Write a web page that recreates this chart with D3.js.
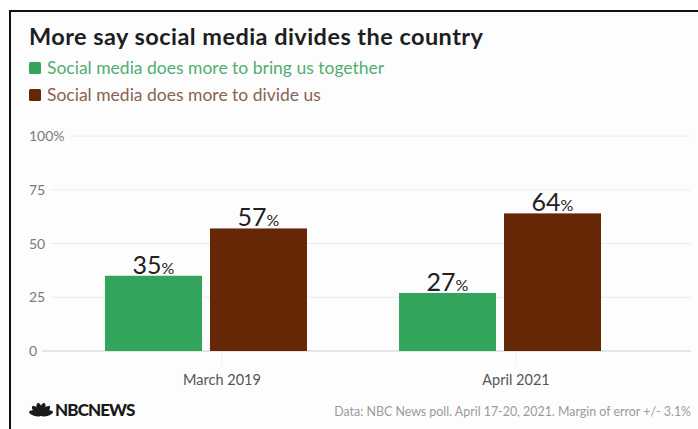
<!DOCTYPE html>
<html>
<head>
<meta charset="utf-8">
<script src="https://cdn.jsdelivr.net/npm/d3@7"></script>
<style>
  html, body { margin: 0; padding: 0; background: #ffffff; }
  svg { display: block; font-family: Lato, "Open Sans", sans-serif; }
</style>
</head>
<body>
<svg id="chart" width="698" height="429"></svg>
<script>
// Survey periods and shares (%) for each answer
const periods = ["March 2019", "April 2021"];
const seriesNames = ["Social media does more to bring us together", "Social media does more to divide us"];
const togetherValues = [35, 27];
const divideValues = [57, 64];
const yTicks = [0, 25, 50, 75, 100];
const seriesColors = ["#33a45b", "#662706"];
const legendTextColors = ["#4fae72", "#8a6250"];

const svg = d3.select("#chart");
const W = 698, H = 429;

// Frame
svg.append("rect").attr("x", 0).attr("y", 0).attr("width", W).attr("height", H).attr("fill", "#ffffff");
svg.append("rect").attr("x", 10).attr("y", 11).attr("width", W).attr("height", H)
  .attr("fill", "#fdfdfd").attr("stroke", "#111").attr("stroke-width", 2);

// Title
svg.append("text").attr("x", 29).attr("y", 45)
  .attr("font-size", 23.5).attr("font-weight", 700).attr("letter-spacing", 0.45).attr("fill", "#1e1e1e")
  .text("More say social media divides the country");

// Legend
const legend = svg.append("g");
seriesNames.forEach((name, i) => {
  const y = 68 + i * 27;
  legend.append("rect").attr("x", 29).attr("y", y - 6).attr("width", 12).attr("height", 12)
    .attr("rx", 1.5).attr("fill", seriesColors[i]);
  legend.append("text").attr("x", 47).attr("y", y + 6)
    .attr("font-size", 17.5).attr("fill", legendTextColors[i]).text(name);
});

// Scales
const y = d3.scaleLinear().domain([0, 100]).range([351, 136]);
const x0 = d3.scaleBand().domain(periods).range([60, 646]).paddingInner(0.313).paddingOuter(0.153);
const x1 = d3.scaleBand().domain([0, 1]).range([0, x0.bandwidth()]).paddingInner(0.076).paddingOuter(0);
const labelShift = 16;

// Gridlines and y-axis labels
const yAxis = svg.append("g");
yTicks.forEach(t => {
  const label = t === 100 ? "100%" : String(t);
  const txt = yAxis.append("text").attr("x", 29).attr("y", y(t) + 5)
    .attr("font-size", 14).attr("fill", "#7a7a7a").text(label);
  const w = txt.node().getComputedTextLength();
  yAxis.append("line").attr("x1", 29 + w + 5).attr("x2", 691)
    .attr("y1", y(t)).attr("y2", y(t))
    .attr("stroke", t === 0 ? "#dcdcdc" : "#ececec").attr("stroke-width", t === 0 ? 1.5 : 1);
});

// Bars
const rows = periods.map((p, i) => ({ period: p, values: [togetherValues[i], divideValues[i]] }));
const groups = svg.selectAll("g.period").data(rows).join("g")
  .attr("class", "period")
  .attr("transform", d => `translate(${x0(d.period)},0)`);

groups.selectAll("rect").data(d => d.values.map((v, k) => ({ v, k }))).join("rect")
  .attr("x", d => x1(d.k))
  .attr("y", d => y(d.v))
  .attr("width", x1.bandwidth())
  .attr("height", d => y(0) - y(d.v))
  .attr("fill", d => seriesColors[d.k]);

// Value labels: large number, smaller percent sign
const labels = groups.selectAll("text.val").data(d => d.values.map((v, k) => ({ v, k }))).join("text")
  .attr("class", "val")
  .attr("x", d => x1(d.k) + x1.bandwidth() / 2)
  .attr("y", d => y(d.v) - 2)
  .attr("text-anchor", "middle")
  .attr("fill", "#222");
labels.append("tspan").attr("font-size", 25).text(d => d.v);
labels.append("tspan").attr("font-size", 16).text("%");

// Category ticks and labels
groups.append("line")
  .attr("x1", x0.bandwidth() / 2 + labelShift).attr("x2", x0.bandwidth() / 2 + labelShift)
  .attr("y1", 352).attr("y2", 367)
  .attr("stroke", "#f1f1f1").attr("stroke-width", 1);
groups.append("text")
  .attr("x", x0.bandwidth() / 2 + labelShift)
  .attr("y", 385)
  .attr("text-anchor", "middle")
  .attr("font-size", 14.5).attr("fill", "#555")
  .text(d => d.period);

// Footer: network mark
const logo = svg.append("g").attr("transform", "translate(29,402)");
const feathers = d3.range(6).map(i => -75 + i * 30);
feathers.forEach(a => {
  logo.append("ellipse")
    .attr("cx", 0).attr("cy", -6).attr("rx", 2.7).attr("ry", 6.4)
    .attr("fill", "#1a1a1a")
    .attr("transform", `translate(12,13) rotate(${a})`);
});
logo.append("text").attr("x", 26).attr("y", 14)
  .attr("font-size", 17).attr("font-weight", 900).attr("letter-spacing", -0.9)
  .attr("fill", "#1a1a1a").text("NBCNEWS");

// Footer: source note
svg.append("text").attr("x", 691).attr("y", 416).attr("text-anchor", "end")
  .attr("font-size", 12.4).attr("fill", "#9a9a9a")
  .text("Data: NBC News poll. April 17-20, 2021. Margin of error +/- 3.1%");
</script>
</body>
</html>
